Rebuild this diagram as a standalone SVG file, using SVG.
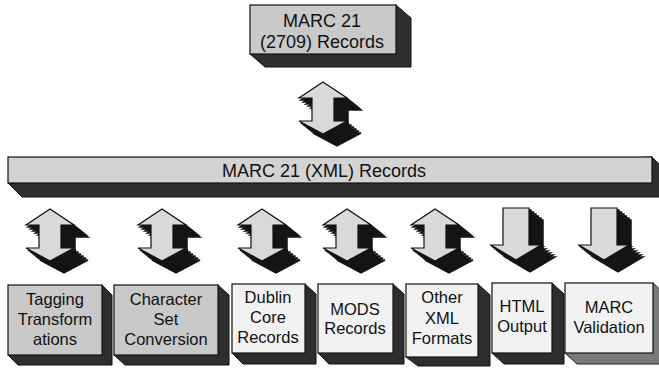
<svg xmlns="http://www.w3.org/2000/svg" xmlns:xlink="http://www.w3.org/1999/xlink" width="659" height="368" viewBox="0 0 659 368">
<style>
.front{stroke:#111;stroke-width:1.2}
.gray{fill:#c9c9c9}
.light{fill:#f2f2f2}
.depth{fill:#2e2e2e;stroke:#111;stroke-width:1}
.depth2{fill:#7a7a7a;stroke:#222;stroke-width:1}
.t{font-family:"Liberation Sans",Arial,sans-serif;font-size:16.5px;fill:#111;text-anchor:middle}
.tl{font-family:"Liberation Sans",Arial,sans-serif;font-size:18px;fill:#111;text-anchor:middle}
.ax{fill:#141414;stroke:#141414;stroke-width:1.5}
.af{fill:#d9d9d9;stroke:#111;stroke-width:1.2}
</style>
<defs>
<path id="dbl" d="M0,0 L24,16 L11,16 L11,39 L24,39 L0,52 L-24,39 L-11,39 L-11,16 L-24,16 Z"/>
<path id="sgl" d="M-13,0 L13,0 L13,37 L25,37 L0,52 L-25,37 L-13,37 Z"/>
<g id="dblA">
<use xlink:href="#dbl" class="ax" x="2" y="2"/>
<use xlink:href="#dbl" class="ax" x="4.5" y="4"/>
<use xlink:href="#dbl" class="ax" x="7" y="6"/>
<use xlink:href="#dbl" class="ax" x="9.5" y="8"/>
<use xlink:href="#dbl" class="ax" x="12" y="10"/>
<use xlink:href="#dbl" class="ax" x="14" y="12"/>
<use xlink:href="#dbl" class="af"/>
</g>
<g id="sglA">
<use xlink:href="#sgl" class="ax" x="2" y="2"/>
<use xlink:href="#sgl" class="ax" x="4.5" y="4"/>
<use xlink:href="#sgl" class="ax" x="7" y="6"/>
<use xlink:href="#sgl" class="ax" x="9.5" y="8"/>
<use xlink:href="#sgl" class="ax" x="12" y="10"/>
<use xlink:href="#sgl" class="ax" x="14" y="12"/>
<use xlink:href="#sgl" class="af"/>
</g>
</defs>
<rect width="659" height="368" fill="#ffffff"/>

<g id="connectors">
<use xlink:href="#dblA" x="323" y="82"/>
<use xlink:href="#dblA" x="50" y="209"/>
<use xlink:href="#dblA" x="162" y="209"/>
<use xlink:href="#dblA" x="262" y="209"/>
<use xlink:href="#dblA" x="347" y="209"/>
<use xlink:href="#dblA" x="435" y="209"/>
<use xlink:href="#sglA" x="516" y="208"/>
<use xlink:href="#sglA" x="604" y="208"/>
</g>

<g id="node-marc21-2709">
<polygon class="depth" points="396,5 411,18 411,67 265,67 250,54"/>
<rect class="front gray" x="250" y="5" width="146" height="49"/>
<text class="tl" x="322" y="27">MARC 21</text>
<text class="tl" x="322" y="48">(2709) Records</text>
</g>

<g id="node-marc21-xml">
<polygon class="depth" points="652,157 666,171 666,197 22,197 8,183"/>
<rect class="front gray" x="8" y="157" width="644" height="26" style="fill:#d3d3d3"/>
<text class="tl" x="324" y="177">MARC 21 (XML) Records</text>
</g>

<g id="node-tagging">
<polygon class="depth" points="102,285 112,295 112,365 18,365 8,355"/>
<rect class="front gray" x="8" y="285" width="94" height="70"/>
<text class="t" x="55" y="305">Tagging</text>
<text class="t" x="55" y="325">Transform</text>
<text class="t" x="55" y="345">ations</text>
</g>

<g id="node-charset">
<polygon class="depth" points="218,285 229,295 229,365 125,365 114,355"/>
<rect class="front gray" x="114" y="285" width="104" height="70"/>
<text class="t" x="166" y="305">Character</text>
<text class="t" x="166" y="325">Set</text>
<text class="t" x="166" y="345">Conversion</text>
</g>

<g id="node-dublin">
<polygon class="depth" points="305,284 316,294 316,364 243,364 232,353"/>
<rect class="front light" x="232" y="284" width="73" height="69"/>
<text class="t" x="268" y="303">Dublin</text>
<text class="t" x="268" y="323">Core</text>
<text class="t" x="268" y="343">Records</text>
</g>

<g id="node-mods">
<polygon class="depth" points="393,284 404,294 404,364 329,364 318,353"/>
<rect class="front light" x="318" y="284" width="75" height="69"/>
<text class="t" x="355" y="315">MODS</text>
<text class="t" x="355" y="334">Records</text>
</g>

<g id="node-otherxml">
<polygon class="depth" points="478,284 490,295 490,366 418,366 406,357"/>
<rect class="front light" x="406" y="284" width="72" height="73"/>
<text class="t" x="442" y="303">Other</text>
<text class="t" x="442" y="324">XML</text>
<text class="t" x="442" y="344">Formats</text>
</g>

<g id="node-html">
<polygon class="depth" points="552,283 564,294 564,364 504,364 492,353"/>
<rect class="front light" x="492" y="283" width="60" height="70"/>
<text class="t" x="522" y="312">HTML</text>
<text class="t" x="522" y="332">Output</text>
</g>

<g id="node-validation">
<polygon class="depth2" points="653,283 665,294 665,364 577,364 565,353"/>
<rect class="front light" x="565" y="283" width="88" height="70"/>
<text class="t" x="609" y="313">MARC</text>
<text class="t" x="609" y="333">Validation</text>
</g>
</svg>
